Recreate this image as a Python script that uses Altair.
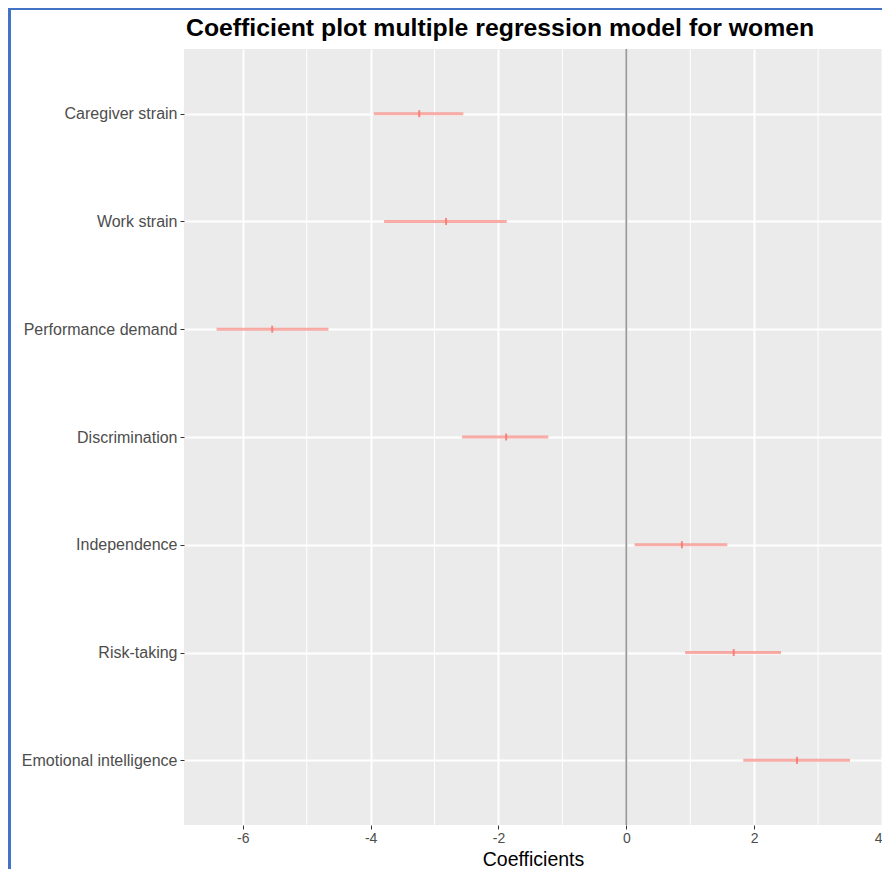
import altair as alt
import pandas as pd

# ---- data ----
predictors = ["Caregiver strain", "Work strain", "Performance demand", "Discrimination",
              "Independence", "Risk-taking", "Emotional intelligence"]
estimate = [-3.24, -2.82, -5.54, -1.88, 0.87, 1.68, 2.67]
ci_low = [-3.95, -3.79, -6.41, -2.57, 0.13, 0.92, 1.83]
ci_high = [-2.55, -1.87, -4.66, -1.22, 1.58, 2.42, 3.50]

x_major = [-6, -4, -2, 0, 2, 4]
x_minor = [-5, -3, -1, 1, 3]
x_domain = [-6.92, 4.0]
title_text = "Coefficient plot multiple regression model for women"

df = pd.DataFrame({"predictor": predictors, "est": estimate, "lo": ci_low, "hi": ci_high})
minor_df = pd.DataFrame({"v": x_minor})
zero_df = pd.DataFrame({"v": [0]})
title_df = pd.DataFrame({"t": [title_text]})

FONT = "Liberation Sans"

xscale = alt.Scale(domain=x_domain, nice=False, zero=False)
yscale = alt.Scale(type="point", domain=predictors, padding=0.6)

x_axis = alt.Axis(values=x_major, labelExpr="datum.value + ''", title="Coefficients",
                  grid=True, gridColor="white", gridWidth=2, domain=False,
                  tickSize=4, tickColor="#333333", tickWidth=1,
                  labelColor="#4D4D4D", labelFontSize=14, labelFont=FONT, labelPadding=2,
                  labelAlign={"condition": {"test": "datum.value >= 4", "value": "right"},
                              "value": "center"},
                  titleFont=FONT, titleFontSize=19.5, titleFontWeight="normal",
                  titleColor="black", titleBaseline="alphabetic", titleY=40)
y_axis = alt.Axis(title=None, grid=True, gridColor="white", gridWidth=2, domain=False,
                  tickSize=4, tickColor="#333333", tickWidth=1,
                  labelColor="#4D4D4D", labelFontSize=16, labelFont=FONT, labelPadding=3)

base = alt.Chart(df)

minor = alt.Chart(minor_df).mark_rule(color="white", strokeWidth=1).encode(
    x=alt.X("v:Q", scale=xscale, axis=x_axis)
)

zero = alt.Chart(zero_df).mark_rule(color="#999999", strokeWidth=1.8).encode(
    x=alt.X("v:Q", scale=xscale)
)

ci = base.mark_rule(color="#F8766D", opacity=0.6, strokeWidth=3).encode(
    y=alt.Y("predictor:N", scale=yscale, axis=y_axis),
    x=alt.X("lo:Q", scale=xscale),
    x2="hi:Q",
)

pt = base.mark_tick(color="#F8766D", opacity=0.85, size=7, thickness=2, orient="vertical").encode(
    y=alt.Y("predictor:N", scale=yscale),
    x=alt.X("est:Q", scale=xscale),
)

title = alt.Chart(title_df).mark_text(
    font=FONT, fontSize=24.8, fontWeight="bold", color="black",
    align="left", baseline="alphabetic",
).encode(text="t:N", x=alt.value(2), y=alt.value(-13))

# decorative blue frame of the screenshot (top and left edges)
frame_top = alt.Chart(zero_df).mark_rule(color="#4472C4", strokeWidth=4).encode(
    x=alt.value(-176), x2=alt.value(720), y=alt.value(-41)
)
frame_left = alt.Chart(zero_df).mark_rule(color="#4472C4", strokeWidth=4).encode(
    x=alt.value(-175), y=alt.value(-43), y2=alt.value(840)
)

chart = alt.layer(minor, zero, ci, pt, title, frame_top, frame_left).properties(
    width=698,
    height=776,
    autosize=alt.AutoSizeParams(type="none"),
    padding={"left": 176, "top": 41, "right": 0, "bottom": 44},
    background="white",
).configure_view(fill="#EBEBEB", stroke=None)

chart.save("out.html", embed_options={"renderer": "svg", "actions": False})
